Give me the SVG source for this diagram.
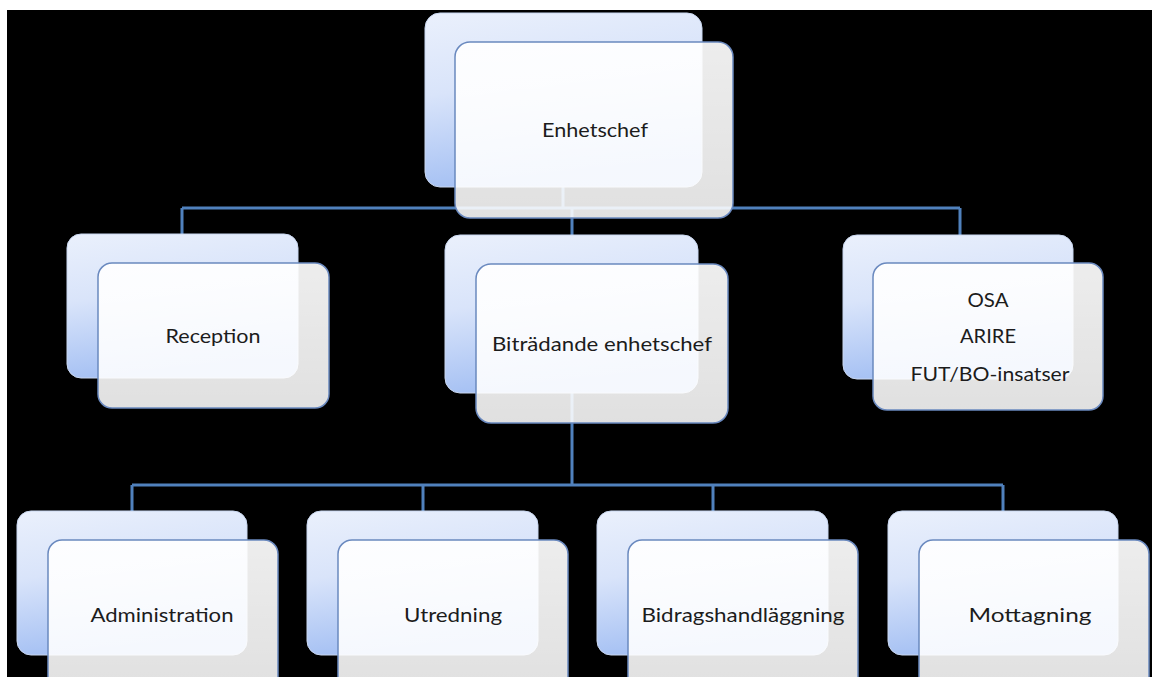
<svg xmlns="http://www.w3.org/2000/svg" width="1152" height="677" viewBox="0 0 1152 677">
  <defs>
    <linearGradient id="backGrad" x1="0" y1="0" x2="0.25" y2="1">
      <stop offset="0" stop-color="#eaf0fc"/>
      <stop offset="0.45" stop-color="#d9e4fa"/>
      <stop offset="1" stop-color="#a3bff3"/>
    </linearGradient>
    <linearGradient id="frontGrad" x1="0" y1="0" x2="0" y2="1">
      <stop offset="0" stop-color="#ffffff" stop-opacity="0.93"/>
      <stop offset="1" stop-color="#ffffff" stop-opacity="0.88"/>
    </linearGradient>
    <style>
      .back { fill: url(#backGrad); stroke: #c9d7f0; stroke-width: 1; }
      .front { fill: url(#frontGrad); stroke: #6a89bf; stroke-width: 1.5; }
      .conn { fill: none; stroke: #5081bd; stroke-width: 3; }
      .lbl { font-family: Lato, "Open Sans", "Liberation Sans", sans-serif; font-size: 20px; fill: #1c1c1c; text-anchor: middle; }
    </style>
  </defs>

  <rect x="0" y="0" width="1152" height="677" fill="#ffffff"/>
  <rect x="7" y="10" width="1145" height="667" fill="#000000"/>

  <g id="connectors">
    <path class="conn" d="M563,187 V208 M182,208 H960 M182,208 V234 M572,208 V235 M960,208 V235"/>
    <path class="conn" d="M572,393 V485 M132,485 H1003 M132,485 V511 M423,485 V511 M713,485 V511 M1003,485 V511"/>
  </g>

  <g id="node-enhetschef">
    <rect class="back" x="425" y="13" width="277" height="174" rx="15"/>
    <rect class="front" x="455" y="42" width="278" height="176" rx="15"/>
    <text class="lbl" x="595" y="137" textLength="106" lengthAdjust="spacingAndGlyphs">Enhetschef</text>
  </g>

  <g id="node-reception">
    <rect class="back" x="67" y="234" width="231" height="144" rx="14"/>
    <rect class="front" x="98" y="263" width="231" height="145" rx="14"/>
    <text class="lbl" x="213" y="343" textLength="95" lengthAdjust="spacingAndGlyphs">Reception</text>
  </g>

  <g id="node-bitradande">
    <rect class="back" x="445" y="235" width="253" height="158" rx="15"/>
    <rect class="front" x="476" y="264" width="252" height="159" rx="15"/>
    <text class="lbl" x="602" y="351" textLength="220" lengthAdjust="spacingAndGlyphs">Biträdande enhetschef</text>
  </g>

  <g id="node-osa">
    <rect class="back" x="843" y="235" width="230" height="144" rx="14"/>
    <rect class="front" x="873" y="263" width="230" height="147" rx="14"/>
    <text class="lbl" x="988" y="307" textLength="41" lengthAdjust="spacingAndGlyphs">OSA</text>
    <text class="lbl" x="988" y="343" textLength="56" lengthAdjust="spacingAndGlyphs">ARIRE</text>
    <text class="lbl" x="990" y="381" textLength="159" lengthAdjust="spacingAndGlyphs">FUT/BO-insatser</text>
  </g>

  <g id="node-administration">
    <rect class="back" x="17" y="511" width="230" height="144" rx="14"/>
    <rect class="front" x="48" y="540" width="230" height="150" rx="14"/>
    <text class="lbl" x="162" y="622" textLength="143" lengthAdjust="spacingAndGlyphs">Administration</text>
  </g>

  <g id="node-utredning">
    <rect class="back" x="307" y="511" width="231" height="144" rx="14"/>
    <rect class="front" x="338" y="540" width="230" height="150" rx="14"/>
    <text class="lbl" x="453" y="622" textLength="98" lengthAdjust="spacingAndGlyphs">Utredning</text>
  </g>

  <g id="node-bidrag">
    <rect class="back" x="597" y="511" width="231" height="144" rx="14"/>
    <rect class="front" x="628" y="540" width="230" height="150" rx="14"/>
    <text class="lbl" x="743" y="622" textLength="203" lengthAdjust="spacingAndGlyphs">Bidragshandläggning</text>
  </g>

  <g id="node-mottagning">
    <rect class="back" x="888" y="511" width="230" height="144" rx="14"/>
    <rect class="front" x="919" y="540" width="230" height="150" rx="14"/>
    <text class="lbl" x="1030" y="622" textLength="123" lengthAdjust="spacingAndGlyphs">Mottagning</text>
  </g>
</svg>
